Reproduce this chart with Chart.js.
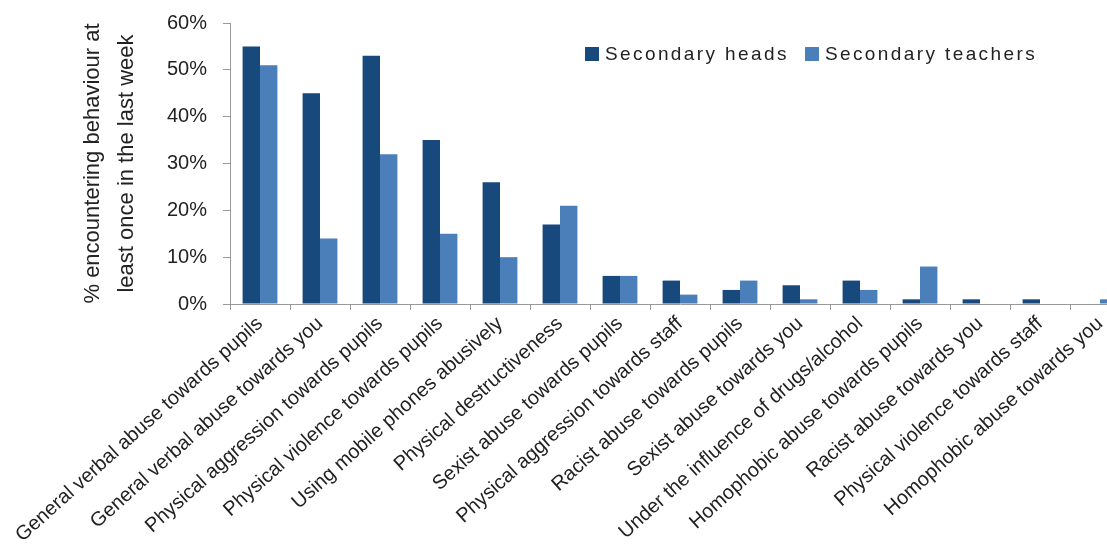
<!DOCTYPE html>
<html>
<head>
<meta charset="utf-8">
<script src="https://cdn.jsdelivr.net/npm/chart.js@4"></script>
<style>
  html, body { margin: 0; padding: 0; background: #fff; overflow: hidden; }
  #wrap { position: relative; width: 1135px; height: 545px; }
  #legend { position: absolute; left: 585px; top: 43px; display: flex; gap: 16px;
            font: 19px 'Liberation Sans', Arial, sans-serif; letter-spacing: 2.4px; color: #222; }
  #legend span.item { display: flex; align-items: center; }
  #legend i { display: inline-block; width: 14px; height: 14px; margin-right: 6px; }
</style>
</head>
<body>
<div id="wrap">
  <canvas id="chart"></canvas>
  <div id="legend"></div>
</div>
<script>
// behaviours encountered at least once in the last week (%)
const categories = [
  'General verbal abuse towards pupils',
  'General verbal abuse towards you',
  'Physical aggression towards pupils',
  'Physical violence towards pupils',
  'Using mobile phones abusively',
  'Physical destructiveness',
  'Sexist abuse towards pupils',
  'Physical aggression towards staff',
  'Racist abuse towards pupils',
  'Sexist abuse towards you',
  'Under the influence of drugs/alcohol',
  'Homophobic abuse towards pupils',
  'Racist abuse towards you',
  'Physical violence towards staff',
  'Homophobic abuse towards you'
];
const secondaryHeads    = [55, 45, 53, 35, 26, 17, 6, 5, 3, 4, 5, 1, 1, 1, 0];
const secondaryTeachers = [51, 14, 32, 15, 10, 21, 6, 2, 5, 1, 3, 8, 0, 0, 1];
const yTicks = [0, 10, 20, 30, 40, 50, 60];

Chart.defaults.font.family = "'Liberation Sans', Arial, sans-serif";
Chart.defaults.color = '#222';

const chart = new Chart(document.getElementById('chart'), {
  type: 'bar',
  data: {
    labels: categories,
    datasets: [
      { label: 'Secondary heads', data: secondaryHeads, backgroundColor: '#17497c' },
      { label: 'Secondary teachers', data: secondaryTeachers, backgroundColor: '#4b7fba' }
    ]
  },
  options: {
    responsive: true,
    maintainAspectRatio: false,
    animation: false,
    datasets: { bar: { categoryPercentage: 0.58, barPercentage: 1.0 } },
    layout: { padding: { top: 23, left: 0, right: 5, bottom: 0 } },
    plugins: { legend: { display: false }, tooltip: { enabled: false } },
    scales: {
      x: {
        grid: { drawOnChartArea: false, tickLength: 6, color: '#999' },
        border: { color: '#999' },
        ticks: { autoSkip: false, minRotation: 42, maxRotation: 42, padding: 2,
                 font: { size: 20 }, color: '#222' },
        afterFit(s) { s.height = 241; s.paddingLeft = 0; s.paddingRight = 0; }
      },
      y: {
        min: yTicks[0],
        max: yTicks[yTicks.length - 1],
        afterBuildTicks(s) { s.ticks = yTicks.map(v => ({ value: v })); },
        grid: { drawOnChartArea: false, tickLength: 7, color: '#999' },
        border: { color: '#999' },
        ticks: { padding: 16, font: { size: 20 }, color: '#222', callback: v => v + '%' },
        title: {
          display: true,
          text: ['% encountering behaviour at', 'least once in the last week'],
          font: { size: 22, lineHeight: 1.55 },
          color: '#222',
          padding: { top: 76, bottom: 0 }
        },
        afterFit(s) { s.width = 230; s.paddingTop = 0; s.paddingBottom = 0; }
      }
    }
  }
});

// legend drawn as html so it can sit over the plot area like the original
const legend = document.getElementById('legend');
chart.data.datasets.forEach(ds => {
  const item = document.createElement('span');
  item.className = 'item';
  const sw = document.createElement('i');
  sw.style.background = ds.backgroundColor;
  item.appendChild(sw);
  item.appendChild(document.createTextNode(ds.label));
  legend.appendChild(item);
});
</script>
</body>
</html>
